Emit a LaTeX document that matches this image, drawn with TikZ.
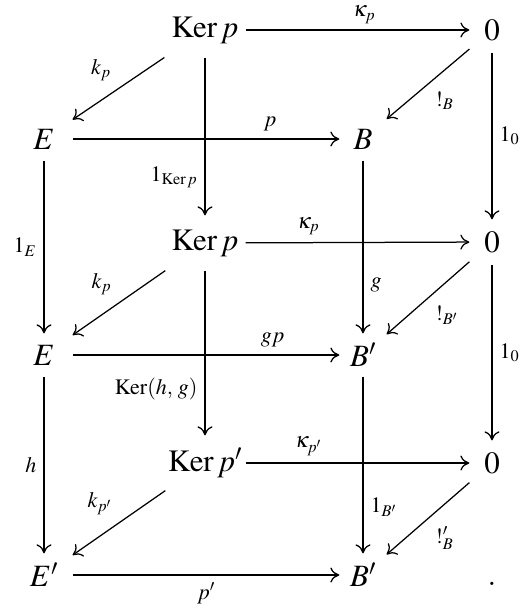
\documentclass[tikz,border=0pt]{standalone}
\usepackage{amsmath}
\usepackage{mathptmx}
\usetikzlibrary{arrows.meta}

\begin{document}
\begin{tikzpicture}[x=1pt, y=-1pt, line width=1.25pt,
    >={Computer Modern Rightarrow[length=9pt, width=15pt]},
    font=\fontsize{31}{37}\selectfont,
    ob/.style={inner sep=0pt, minimum width=#1},
    kob/.style={ob=80pt, minimum height=54pt},
    eob/.style={ob=56pt, minimum height=42pt},
    bob/.style={ob=46pt, minimum height=42pt},
    zob/.style={ob=44pt, minimum height=44pt},
    lab/.style={font=\fontsize{22}{26}\selectfont, inner sep=7pt}]
    \useasboundingbox (0,0) rectangle (520,612);

    % back face
    \node[kob] (k1) at (205,30)  {$\operatorname{Ker} p$};
    \node[zob] (z1) at (492,30)  {$0$};
    \node[kob] (k2) at (205,243) {$\operatorname{Ker} p$};
    \node[zob] (z2) at (492,242) {$0$};
    \node[kob] (k3) at (205,463) {$\operatorname{Ker} p'$};
    \node[zob] (z3) at (492,463) {$0$};
    % front face
    \node[eob] (e1) at (44,139)  {$E$};
    \node[bob] (b1) at (363,139) {$B$};
    \node[eob] (e2) at (44,355)  {$E$};
    \node[bob] (b2) at (363,355) {$B'$};
    \node[eob] (e3) at (44,575)  {$E'$};
    \node[bob] (b3) at (363,575) {$B'$};
    \node[anchor=base] (dot) at (492,585) {$.$};

    % top layer
    \draw[->] (k1) -- node[lab, above, pos=.53, inner sep=6pt] {$\kappa_p$} (z1);
    \draw[->] (k1) -- node[lab, above left] {$k_p$} (e1);
    \draw[->] (z1) -- node[lab, below right] {$!_B$} (b1);
    \draw[->] (e1) -- node[lab, above, pos=.74] {$p$} (b1);
    % middle layer
    \draw[->] (k2) -- node[lab, above, pos=.28] {$\kappa_p$} (z2);
    \draw[->] (k2) -- node[lab, above left] {$k_p$} (e2);
    \draw[->] (z2) -- node[lab, below right] {$!_{B'}$} (b2);
    \draw[->] (e2) -- node[lab, above, pos=.75] {$gp$} (b2);
    % bottom layer
    \draw[->] (k3) -- node[lab, above, pos=.28] {$\kappa_{p'}$} (z3);
    \draw[->] (k3) -- node[lab, above left] {$k_{p'}$} (e3);
    \draw[->] (z3) -- node[lab, below right] {$!'_B$} (b3);
    \draw[->] (e3) -- node[lab, below] {$p'$} (b3);

    % verticals
    \draw[->] (k1) -- node[lab, left, pos=.76] {$1_{\operatorname{Ker} p}$} (k2);
    \draw[->] (k2) -- node[lab, left, pos=.72] {$\operatorname{Ker}(h,\,g)$} (k3);
    \draw[->] (z1) -- node[lab, right] {$1_0$} (z2);
    \draw[->] (z2) -- node[lab, right] {$1_0$} (z3);
    \draw[->] (e1) -- node[lab, left] {$1_E$} (e2);
    \draw[->] (e2) -- node[lab, left] {$h$} (e3);
    \draw[->] (b1) -- node[lab, right, pos=.72] {$g$} (b2);
    \draw[->] (b2) -- node[lab, right, pos=.74] {$1_{B'}$} (b3);
\end{tikzpicture}
\end{document}
